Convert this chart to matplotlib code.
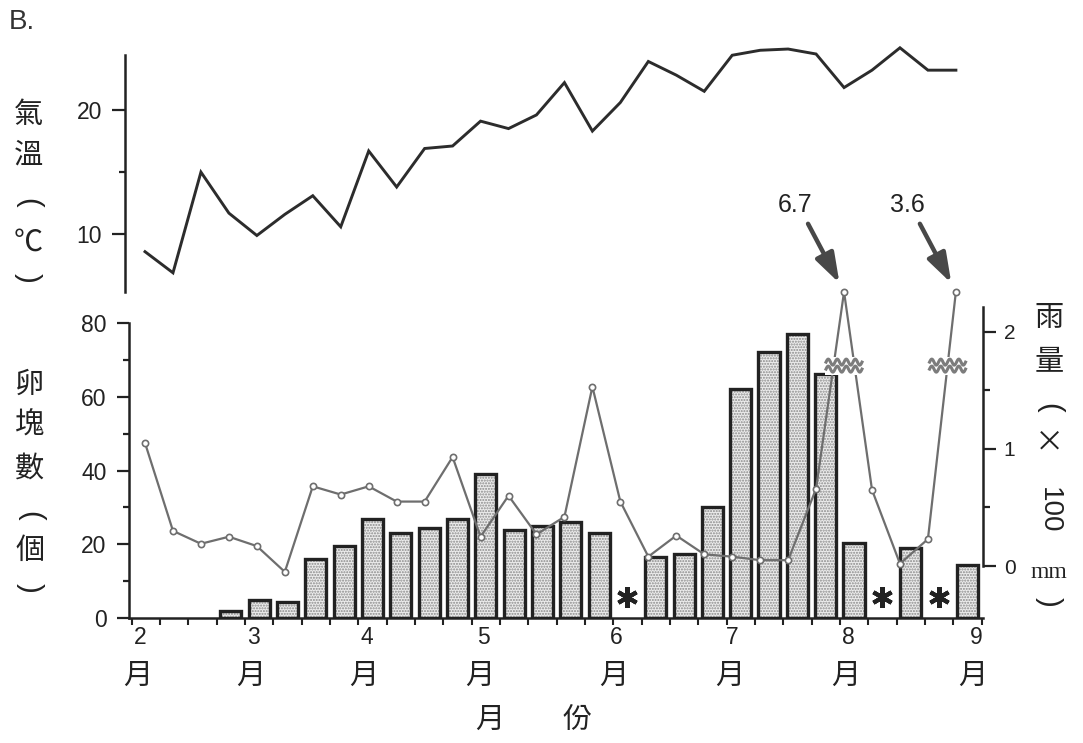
import numpy as np
import matplotlib
matplotlib.use("Agg")
import matplotlib.pyplot as plt
from matplotlib.patches import Rectangle
from matplotlib.lines import Line2D
from matplotlib.transforms import ScaledTranslation, blended_transform_factory

plt.rcParams["font.family"] = ["Liberation Sans", "Noto Sans CJK TC", "DejaVu Sans"]

# ---- data (weekly samples, Feb – Aug) -------------------------------------
# egg masses counted each week; NaN marks a week without a survey
egg_masses = [0, 0, 0, 2, 5, 4.5, 16, 19.5, 27, 23, 24.5, 27, 39, 24, 25,
              26, 23, np.nan, 16.5, 17.5, 30, 62, 72, 77, 66, 20.5, np.nan,
              19, np.nan, 14.5]
# weekly mean air temperature (°C)
temperature = [8.6, 6.9, 15.0, 11.7, 9.9, 11.6, 13.1, 10.6, 16.7, 13.8,
               16.9, 17.1, 19.1, 18.5, 19.6, 22.2, 18.3, 20.6, 23.9, 22.8,
               21.5, 24.4, 24.8, 24.9, 24.5, 21.8, 23.2, 25.0, 23.2, 23.2]
# weekly rainfall (x100 mm)
rainfall = [1.05, 0.30, 0.19, 0.25, 0.17, -0.05, 0.68, 0.61, 0.68, 0.55,
            0.55, 0.93, 0.25, 0.60, 0.27, 0.42, 1.53, 0.55, 0.08, 0.26,
            0.10, 0.08, 0.05, 0.05, 0.66, 6.7, 0.65, 0.02, 0.23, 3.6]
month_labels = ["2", "3", "4", "5", "6", "7", "8", "9"]
month_weeks = [0.3, 4.3, 8.3, 12.4, 17.1, 21.2, 25.3, 29.8]

# ---- layout helpers (pixel geometry of a 1083 x 743 canvas) ---------------
W, H = 1083, 743
fx = lambda px: px / W
fy = lambda py: 1 - py / H

INK = "#222222"
RAIN = "#6e6e6e"
CJK = ["Noto Sans CJK TC", "DejaVu Sans"]

fig = plt.figure(figsize=(W / 100, H / 100), dpi=100)

ax = fig.add_axes([fx(128.9), fy(618.3), fx(983) - fx(128.9), fy(283) - fy(618.3)])
ax_t = fig.add_axes([fx(128.9), fy(291.7), fx(983) - fx(128.9), fy(55) - fy(291.7)],
                    sharex=ax)
ax2 = ax.twinx()

n_weeks = len(egg_masses)
bar_x = np.arange(n_weeks) + 0.5
sample_x = 0.47 + 0.987 * np.arange(n_weeks)

ax.set_xlim(-0.099, 30.05)
ax.set_ylim(0, 90.75)
ax2.set_ylim(-0.446, 2.415)
ax_t.set_ylim(5.38, 24.42)

# ---- bars: egg masses -----------------------------------------------------
eggs = np.array(egg_masses, dtype=float)
present = ~np.isnan(eggs) & (eggs > 0)
ax.bar(bar_x[present], eggs[present], width=0.75, facecolor="#ececec",
       edgecolor="#8a8a8a", hatch="......", linewidth=0, zorder=2)
ax.bar(bar_x[present], eggs[present], width=0.75, fill=False,
       edgecolor=INK, linewidth=2.4, zorder=3)
missing = np.isnan(eggs)
ax.plot(bar_x[missing], np.full(missing.sum(), 5.8), ls="none",
        marker=(6, 2, 0), ms=15, mew=3.0, color=INK, zorder=4)

# ---- rainfall line (values above the cap are drawn on a broken scale) -----
cap = 2.34
brk = 1.71
rain = np.array(rainfall)
rain_draw = np.minimum(rain, cap)
ax2.plot(sample_x, rain_draw, color=RAIN, lw=1.6, marker="o", ms=4.5,
         mfc="white", mec=RAIN, mew=1.2, clip_on=False, zorder=5)

px_in = 1 / 100.0  # one pixel in inches
for k in np.where(rain > cap)[0]:
    xs = []
    for j in (k - 1, k + 1):
        if 0 <= j < n_weeks:
            y0, y1 = rain_draw[j], rain_draw[k]
            t = (brk - y0) / (y1 - y0)
            xs.append(sample_x[j] + t * (sample_x[k] - sample_x[j]))
    cx = float(np.mean(xs))
    tr = fig.dpi_scale_trans + ScaledTranslation(cx, brk, ax2.transData)
    ax2.add_patch(Rectangle((-19 * px_in, -9 * px_in), 38 * px_in, 18 * px_in,
                            transform=tr, facecolor="white", edgecolor="none",
                            zorder=6, clip_on=False))
    tt = np.linspace(-18, 18, 120)
    for dy in (-3.5, 3.5):
        ax2.add_line(Line2D(tt * px_in, (dy + 3.0 * np.sin(2 * np.pi * tt / 9.0)) * px_in,
                            transform=tr, color="#7c7c7c", lw=2.2, zorder=7,
                            clip_on=False))
    # value label with arrow pointing at the capped point
    ax2.annotate("", xy=(sample_x[k], cap), xytext=(-36, 68),
                 textcoords="offset pixels",
                 arrowprops=dict(arrowstyle="-|>,head_length=0.9,head_width=0.3",
                                 mutation_scale=20, lw=3.2, color="#484848",
                                 shrinkA=0, shrinkB=7),
                 annotation_clip=False, zorder=8)
    ax2.annotate(f"{rain[k]:g}", xy=(sample_x[k], cap), xytext=(-49, 87),
                 textcoords="offset pixels", ha="center", va="center",
                 fontsize=18, color=INK, annotation_clip=False)

# ---- temperature line -----------------------------------------------------
ax_t.plot(sample_x, temperature, color="#2c2c2c", lw=2.1, clip_on=False,
          solid_joinstyle="miter")

# ---- axes styling ---------------------------------------------------------
for a in (ax, ax2, ax_t):
    for s in a.spines.values():
        s.set_linewidth(1.8)
        s.set_color(INK)
    a.patch.set_visible(False)

ax.spines["top"].set_visible(False)
ax.spines["right"].set_visible(False)
ax.spines["left"].set_bounds(0, 80)
ax.set_yticks([0, 20, 40, 60, 80])
ax.set_yticks([10, 30, 50, 70], minor=True)
ax.set_xticks(np.arange(0, 31))
ax.tick_params(axis="x", which="major", direction="out", length=5, width=1.5,
               color=INK, labelbottom=False)
ax.tick_params(axis="y", which="major", length=9, width=1.6, color=INK,
               labelsize=16.5, labelcolor=INK, pad=7)
ax.tick_params(axis="y", which="minor", length=4.5, width=1.6, color=INK)

ax2.spines["top"].set_visible(False)
ax2.spines["left"].set_visible(False)
ax2.spines["bottom"].set_visible(False)
ax2.spines["right"].set_bounds(0, 2.21)
ax2.set_yticks([0, 1, 2])
ax2.set_yticks([0.5, 1.5], minor=True)
ax2.tick_params(axis="y", which="major", length=9, width=1.6, color=INK,
                labelsize=15, labelcolor=INK, pad=6)
ax2.tick_params(axis="y", which="minor", length=5, width=1.6, color=INK)

for side in ("top", "right", "bottom"):
    ax_t.spines[side].set_visible(False)
ax_t.spines["left"].set_position(("outward", 3))
ax_t.set_yticks([10, 20])
ax_t.set_yticks([15], minor=True)
ax_t.tick_params(axis="x", which="both", bottom=False, labelbottom=False)
ax_t.tick_params(axis="y", which="major", length=9.5, width=1.6, color=INK,
                 labelsize=16.5, labelcolor=INK, pad=7)
ax_t.tick_params(axis="y", which="minor", length=4, width=1.6, color=INK)

# ---- month labels ---------------------------------------------------------
mt = blended_transform_factory(ax.transData, fig.transFigure)
for lab, w in zip(month_labels, month_weeks):
    ax.text(w, fy(638), lab, transform=mt, ha="center", va="center",
            fontsize=16.5, color=INK)
    ax.text(w - 0.1, fy(676), "月", transform=mt, ha="center", va="center",
            fontsize=21, color=INK, family=CJK)

fig.text(fx(490), fy(720), "月", ha="center", va="center", fontsize=21,
         color=INK, family=CJK)
fig.text(fx(577), fy(720), "份", ha="center", va="center", fontsize=21,
         color=INK, family=CJK)

# ---- vertical axis titles -------------------------------------------------
def column(chars, x, ys, size=21):
    for ch, y in zip(chars, ys):
        if ch in "()":
            fig.text(fx(x), fy(y), ch, ha="center", va="center", fontsize=size,
                     color=INK, rotation=-90, rotation_mode="anchor")
        else:
            fig.text(fx(x), fy(y), ch, ha="center", va="center", fontsize=size,
                     color=INK, family=CJK)

column(["氣", "溫", "(", "℃", ")"], 28, [115, 156, 203, 243, 278])
column(["卵", "塊", "數", "(", "個", ")"], 30, [385, 426, 469, 516, 551, 588])
column(["雨", "量", "(", "×"], 1049, [318, 362, 408, 443])
fig.text(fx(1049), fy(510), "100", ha="center", va="center", rotation=-90,
         rotation_mode="anchor", fontsize=20, color=INK)
fig.text(fx(1049), fy(573), "mm", ha="center", va="center", fontsize=17,
         color=INK, family=["Liberation Serif"])
column([")"], 1049, [602])

fig.text(fx(9), fy(22), "B.", ha="left", va="center", fontsize=20, color="#333333")

fig.savefig("out.png", dpi=100)
